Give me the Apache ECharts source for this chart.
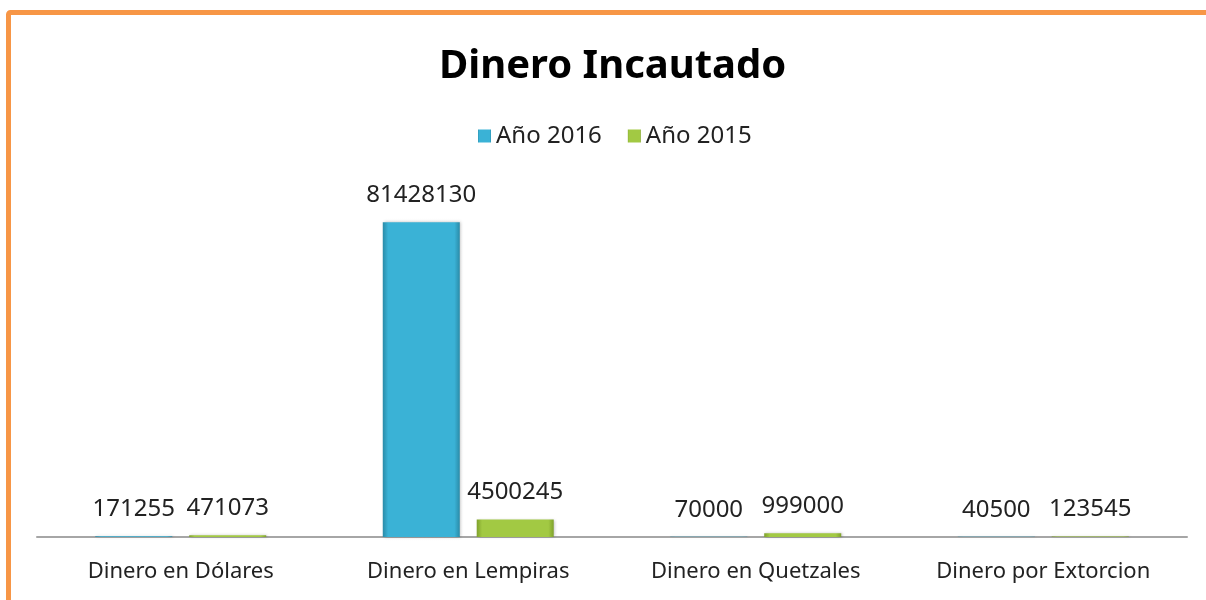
<!DOCTYPE html>
<html>
<head>
<meta charset="utf-8">
<script src="https://cdn.jsdelivr.net/npm/echarts@6/dist/echarts.min.js"></script>
<style>
html,body{margin:0;padding:0;background:#fff;}
#c{width:1206px;height:600px;}
</style>
</head>
<body>
<div id="c"></div>
<script>
const categories = ['Dinero en Dólares', 'Dinero en Lempiras', 'Dinero en Quetzales', 'Dinero por Extorcion'];
const seriesNames = ['Año 2016', 'Año 2015'];
const values2016 = [171255, 81428130, 70000, 40500];
const values2015 = [471073, 4500245, 999000, 123545];

const FONT = 'Noto Sans';
function grad(edge, mid) {
  return {
    type: 'linear', x: 0, y: 0, x2: 1, y2: 0,
    colorStops: [
      {offset: 0, color: edge},
      {offset: 0.07, color: mid},
      {offset: 0.93, color: mid},
      {offset: 1, color: edge}
    ]
  };
}
const chart = echarts.init(document.getElementById('c'), null, {renderer: 'canvas'});
chart.setOption({
  animation: false,
  backgroundColor: '#ffffff',
  graphic: [{
    type: 'rect',
    shape: {x: 8.5, y: 12.5, width: 1400, height: 800, r: 2},
    style: {fill: 'none', stroke: '#F79646', lineWidth: 5},
    silent: true
  }],
  title: {
    text: 'Dinero Incautado',
    left: 434,
    top: 42,
    textStyle: {fontFamily: FONT, fontWeight: 'bold', fontSize: 40, color: '#000'}
  },
  legend: {
    data: seriesNames,
    top: 119,
    left: 473,
    itemWidth: 13,
    itemHeight: 13,
    itemGap: 26,
    icon: 'rect',
    textStyle: {fontFamily: FONT, fontSize: 24, color: '#222'}
  },
  grid: {left: 37, right: 19, top: 189, bottom: 63},
  xAxis: {
    type: 'category',
    data: categories,
    axisLine: {lineStyle: {color: '#A6A6A6', width: 2}},
    axisTick: {show: false},
    axisLabel: {fontFamily: FONT, fontSize: 22, color: '#222', margin: 24, interval: 0, hideOverlap: false}
  },
  yAxis: {
    type: 'value',
    min: 0,
    max: 90000000,
    show: false,
    splitLine: {show: false}
  },
  series: [
    {
      name: seriesNames[0],
      type: 'bar',
      data: values2016,
      barWidth: 77,
      barGap: '22%',
      itemStyle: {color: grad('#2a8ba8', '#3ab2d6'), shadowColor: 'rgba(0,0,0,0.25)', shadowBlur: 3, shadowOffsetX: 1},
      label: {show: true, position: 'top', distance: 15, fontFamily: FONT, fontSize: 24, color: '#222'}
    },
    {
      name: seriesNames[1],
      type: 'bar',
      data: values2015,
      barWidth: 77,
      itemStyle: {color: grad('#7fa12c', '#a2c943'), shadowColor: 'rgba(0,0,0,0.25)', shadowBlur: 3, shadowOffsetX: 1},
      label: {show: true, position: 'top', distance: 15, fontFamily: FONT, fontSize: 24, color: '#222'}
    }
  ]
});
</script>
</body>
</html>
